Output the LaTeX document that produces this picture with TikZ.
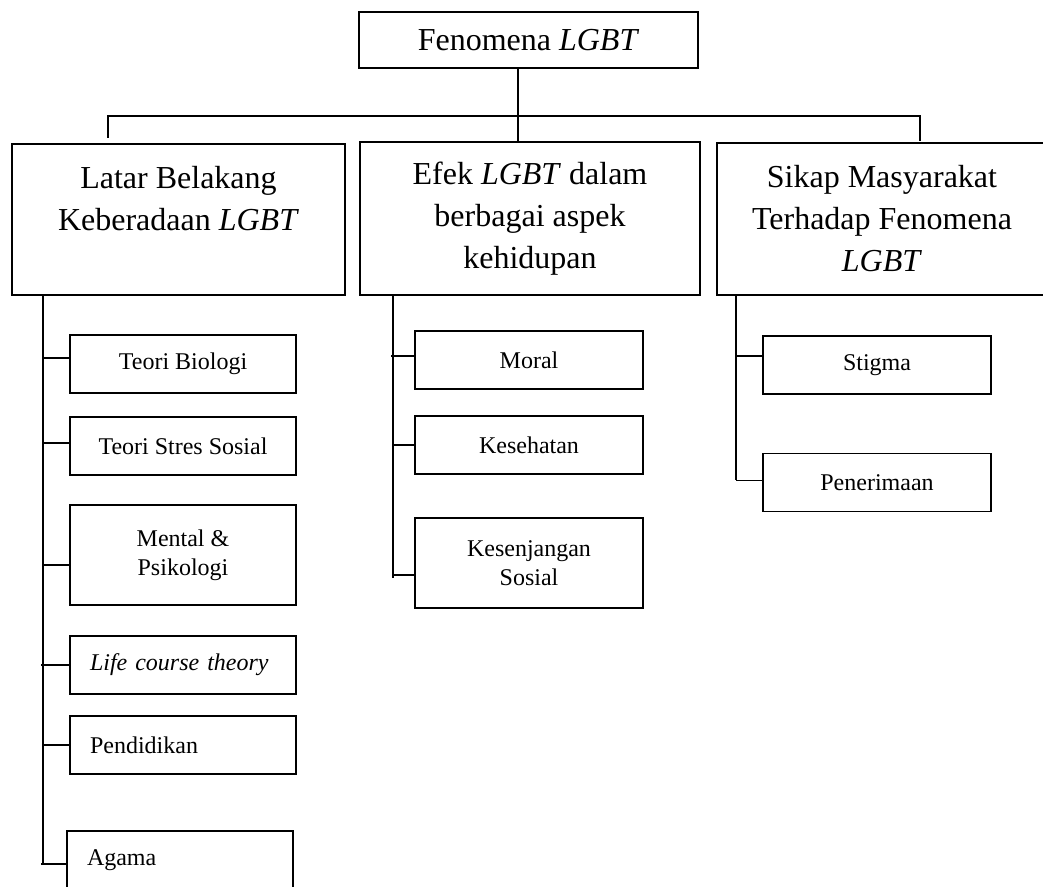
\documentclass[tikz,border=0pt]{standalone}
\usepackage{fontspec}
\setmainfont{Liberation Serif}
\usetikzlibrary{positioning}

\begin{document}
\begin{tikzpicture}[x=.5pt,y=-.5pt,line width=.8pt,
    box/.style={draw,inner sep=0pt,align=center},
    big/.style={box,font=\fontsize{16}{21}\selectfont},
    small/.style={box,font=\fontsize{12}{14.5}\selectfont,minimum width=113pt,minimum height=29pt},
    lbox/.style={box,font=\fontsize{12}{14.5}\selectfont,align=left,text width=93pt,inner xsep=10pt,minimum height=29pt}]
   \useasboundingbox (0,0) rectangle (1043,887);
   \clip (0,0) rectangle (1043,887);

    % top
    \node (top) [big,minimum width=169.5pt,minimum height=28pt] at (528.5,40) {Fenomena \textit{LGBT}};

    % B1, B2, B3
    \node (latar) [big,minimum width=166.5pt,minimum height=75.5pt] at (178.5,219.5) {Latar Belakang\\Keberadaan \textit{LGBT}\\ \mbox{}};
    \node (efek) [big,minimum width=170pt,minimum height=76.5pt] at (530,218.5) {Efek \textit{LGBT} dalam\\berbagai aspek\\kehidupan};
    \node (sikap) [big,minimum width=165pt,minimum height=76pt] at (882,219) {Sikap Masyarakat\\Terhadap Fenomena\\\textit{LGBT}};

    % bar
    \coordinate (hub) at (518,116);
    \coordinate (bl) at (108,116);
    \coordinate (br) at (920,116);
    \draw ([xshift=-5.25pt]top.south) -- (hub) -- (hub |- efek.north);
    \draw (bl) ++(0,22) -- (bl) -- (br) -- ++(0,25);

    % column 1
    \coordinate (c1) at (43,295);
    \draw (c1) -- ++(0,569);
    \node (bio) [small] at (183,364) {Teori Biologi};
    \node (stres) [small] at (183,446) {Teori Stres Sosial};
    \node (mental) [small,minimum height=50pt] at (183,555) {Mental \&\\Psikologi};
    \node (life) [lbox] at (183,665) {\textit{Life course theory}};
    \node (didik) [lbox] at (183,745) {Pendidikan};
    \node (agama) [lbox] at (180,860) {Agama};
    \draw ([yshift=3pt]bio.west) -- ([yshift=3pt]bio.west -| c1);
    \draw ([yshift=1.5pt]stres.west) -- ([yshift=1.5pt]stres.west -| c1);
    \draw ([yshift=-5pt]mental.west) -- ([yshift=-5pt]mental.west -| c1);
    \draw (life.west) -- ([xshift=-1pt]life.west -| c1);
    \draw (didik.west) -- (didik.west -| c1);
    \draw ([yshift=-2pt]agama.west) -- ([yshift=-2pt,xshift=-1pt]agama.west -| c1);

    % column 2
    \coordinate (c2) at (393,295);
    \draw (c2) -- ++(0,283);
    \node (moral) [small,minimum width=114pt] at (529,360) {Moral};
    \node (sehat) [small,minimum width=114pt] at (529,445) {Kesehatan};
    \node (senjang) [small,minimum width=114pt,minimum height=45pt] at (529,563) {Kesenjangan\\Sosial};
    \draw ([yshift=2pt]moral.west) -- ([yshift=2pt,xshift=-1pt]moral.west -| c2);
    \draw (sehat.west) -- (sehat.west -| c2);
    \draw ([yshift=-6pt]senjang.west) -- ([yshift=-6pt]senjang.west -| c2);

    % column 3
    \coordinate (c3) at (736,295);
    \draw (c3) -- ++(0,185);
    \node (stigma) [small,minimum width=114pt] at (877,365) {Stigma};
    \node (terima) [small,minimum width=114pt] at (877,482.5) {Penerimaan};
    \draw ([yshift=4.5pt]stigma.west) -- ([yshift=4.5pt]stigma.west -| c3);
    \draw ([yshift=1pt]terima.west) -- ([yshift=1pt]terima.west -| c3);
\end{tikzpicture}
\end{document}
